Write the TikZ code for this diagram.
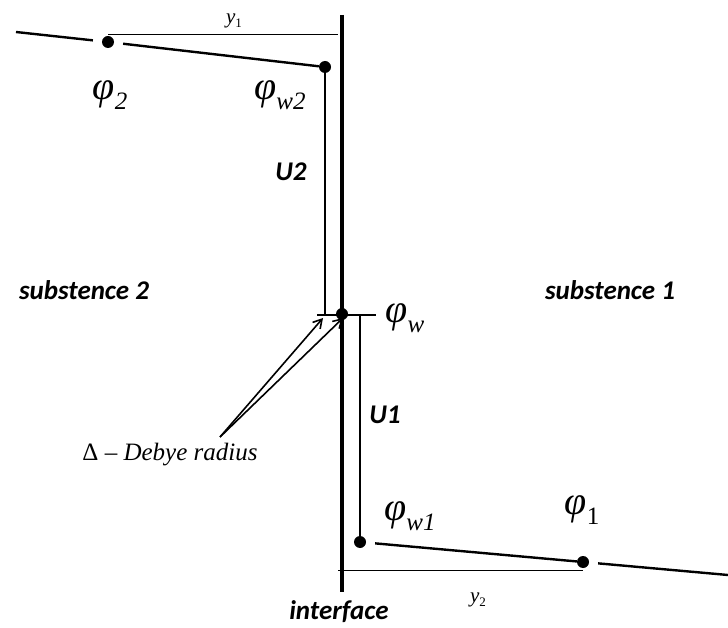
\documentclass[tikz,border=0pt]{standalone}
\usepackage{fontspec}
\setmainfont{Liberation Serif}
\newfontfamily\labfont{Carlito}
\usepackage{tikz}
\usetikzlibrary{calc,arrows.meta,positioning}
\newcommand{\pot}[2][\itshape]{{\fontsize{40}{40}\selectfont\itshape φ}\raisebox{-10pt}{\fontsize{25}{25}\selectfont#1\relax#2}}
\tikzset{
  dot/.style={circle,fill=black,inner sep=0pt,minimum size=12pt},
  prof/.style={line width=2.4pt},
  lvl/.style={line width=2pt},
  dim/.style={line width=0.9pt},
  face/.style={line width=4.5pt},
  ar/.style={-{Straight Barb[length=3mm,width=3.5mm]},line width=1.6pt},
  lab/.style={font=\labfont\bfseries\itshape\fontsize{27}{27}\selectfont},
  sym/.style={inner sep=0pt}
}
\begin{document}
\begin{tikzpicture}[x=1pt,y=-1pt]
\useasboundingbox (0,0) rectangle (728,628);
% interface
\coordinate (ftop) at (342,15);
\coordinate (fbot) at (342,592);
\draw[face] (ftop) -- (fbot);
% potential points
\node[dot] (p2) at (108,42) {};
\node[dot] (pw2) at (325,67) {};
\node[dot] (pw) at (342,314) {};
\node[dot] (pw1) at (360,542) {};
\node[dot] (p1) at (583,562) {};
\coordinate (lend) at (16,32);
\coordinate (rend) at (728,575);
% profile
\draw[prof,shorten >=9pt] (lend) -- (p2);
\draw[prof,shorten <=9pt] (p2) -- (pw2);
\draw[prof,shorten <=9pt] (pw1) -- (p1);
\draw[prof,shorten <=9pt] (p1) -- (rend);
% potential drops
\coordinate (tl) at (317,315);
\coordinate (tr) at (376,315);
\draw[lvl] (pw2) -- (pw2 |- tl);
\draw[lvl] (tl) -- (tr);
\draw[lvl] (pw1 |- tl) -- (pw1);
% distances
\coordinate (d1) at (338,34);
\coordinate (d2) at (338,570);
\draw[dim] (p2.center |- d1) -- (d1);
\draw[dim] (d2) -- (p1.center |- d2);
\node[sym,font=\fontsize{21}{21}\selectfont] (ya) at (234,21) {\textit{y}\raisebox{-4pt}{\fontsize{13}{13}\selectfont 1}};
\node[sym,font=\fontsize{21}{21}\selectfont] (yb) at (478,600) {\textit{y}\raisebox{-4pt}{\fontsize{13}{13}\selectfont 2}};
% labels
\node[sym] (l2) at (110,95) {\pot{2}};
\node[sym] (lw2) at (280,95) {\pot{w2}};
\node[sym] (lw) at (405,318) {\pot{w}};
\node[sym] (lw1) at (410,516) {\pot{w1}};
\node[sym] (l1) at (582,510) {\pot[\upshape]{1}};
\node[lab] (u2) at (291,172) {U2};
\node[lab] (u1) at (385,415) {U1};
\node[lab] (s2) at (84,290) {substence 2};
\node[lab] (s1) at (610,290) {substence 1};
\node[lab] (ifc) at (339,612) {interface};
\node[sym,font=\fontsize{25}{25}\selectfont] (deb) at (170,455) {Δ – \textit{Debye radius}};
\coordinate (src) at (220,437);
\draw[ar] (src) -- (323,318);
\draw[ar] (src) -- (343,318);
\end{tikzpicture}
\end{document}
